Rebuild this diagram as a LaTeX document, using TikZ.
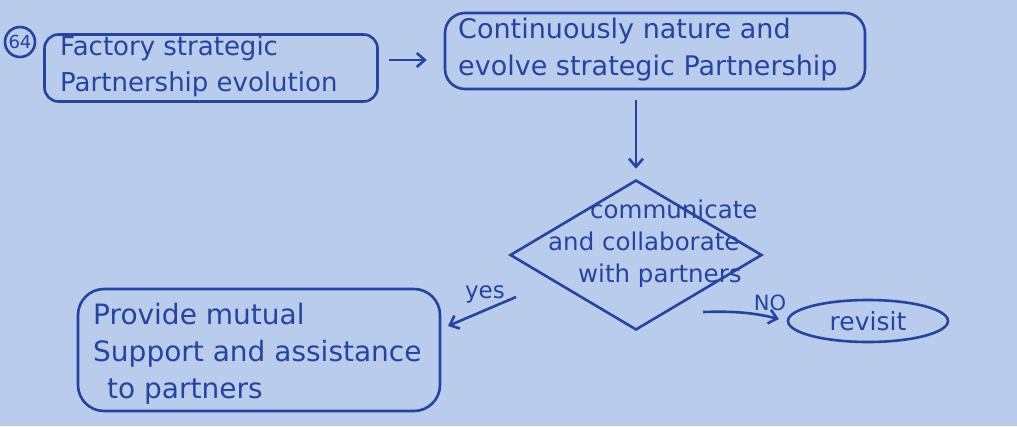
\documentclass[tikz,border=0pt]{standalone}
\usepackage{fontspec}
\setmainfont{DejaVu Sans}
\usetikzlibrary{shapes.geometric,arrows.meta,calc}
\definecolor{paper}{RGB}{186,204,236}
\definecolor{ink}{RGB}{36,68,162}
\tikzset{
  ink/.style={draw=ink,line width=2.6pt,text=ink},
  boxstyle/.style={ink,rectangle,inner sep=0pt},
  txt/.style={text=ink,inner sep=0pt},
  arr/.style={draw=ink,line width=2.6pt,-{Straight Barb[length=8pt,width=14pt]}},
}
\begin{document}
\begin{tikzpicture}[x=1pt,y=-1pt]
\fill[paper] (0,0) rectangle (1017,426);
\useasboundingbox (0,0) rectangle (1017,426);
% number
\node[ink,circle,minimum size=30pt,inner sep=0pt,font=\fontsize{18}{18}\selectfont] (num) at (20,42) {64};
% box 1
\node[boxstyle,rounded corners=14pt,minimum width=333pt,minimum height=67pt] (b1) at (211,68) {};
\node[txt,align=left,anchor=west,font=\fontsize{26}{36}\selectfont] (t1) at (60,66) {Factory strategic\\Partnership evolution};
% box 2
\node[boxstyle,rounded corners=20pt,minimum width=420pt,minimum height=76pt] (b2) at (655,51) {};
\node[txt,align=left,anchor=west,font=\fontsize{27}{37}\selectfont] (t2) at (458,50) {Continuously nature and\\evolve strategic Partnership};
% diamond
\node[ink,diamond,minimum width=252pt,minimum height=150pt,inner sep=0pt] (d) at (636,255) {};
\node[txt,align=left,anchor=west,font=\fontsize{24.5}{32}\selectfont] (td) at (548,244) {\hspace*{42pt}communicate\\and collaborate\\\hspace*{30pt}with partners};
% box 3
\node[boxstyle,rounded corners=26pt,minimum width=362pt,minimum height=122pt] (b3) at (259,350) {};
\node[txt,align=left,anchor=west,font=\fontsize{28}{37}\selectfont] (t3) at (93,354) {Provide mutual\\Support and assistance\\\hspace*{14pt}to partners};
% revisit
\node[ink,ellipse,minimum width=160pt,minimum height=42pt,inner sep=0pt,font=\fontsize{25}{25}\selectfont] (rv) at (868,321) {revisit};
% connectors
\draw[arr,shorten <=10pt,shorten >=17pt] (b1.east |- 0,60) -- (b2.west |- 0,60);
\draw[arr,shorten <=10pt,shorten >=10pt] (d.north |- b2.south) -- (d.north);
\coordinate (ys) at (516,297);
\coordinate (ye) at (448,326);
\draw[arr] (ys) -- (ye);
\node[txt,font=\fontsize{23}{23}\selectfont] (yes) at (485,294) {yes};
\coordinate (ns) at (703,312);
\draw[arr,shorten >=8pt] (ns) to[bend left=8] (rv.west);
\node[txt,font=\fontsize{21}{21}\selectfont] (no) at (770,303) {NO};
\end{tikzpicture}
\end{document}
